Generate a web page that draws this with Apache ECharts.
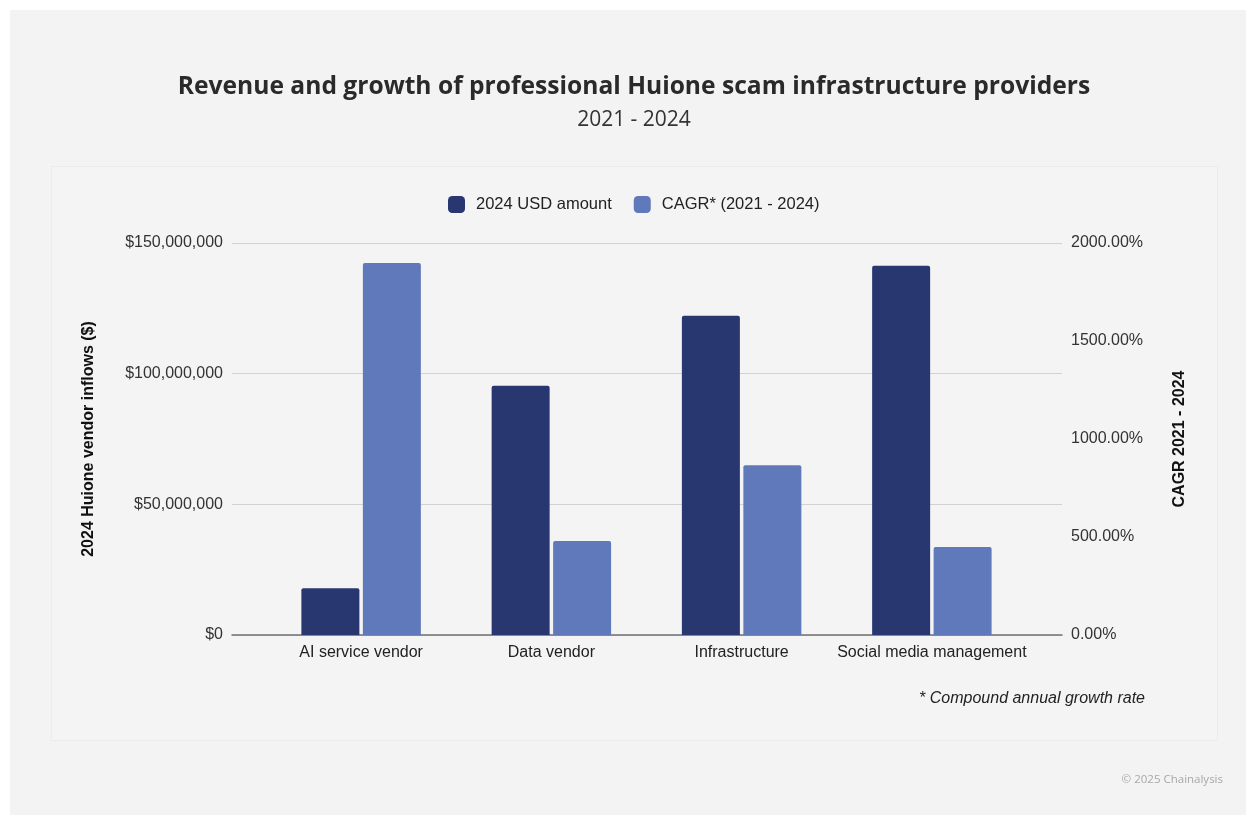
<!DOCTYPE html>
<html>
<head>
<meta charset="utf-8">
<script src="https://cdn.jsdelivr.net/npm/echarts@6/dist/echarts.min.js"></script>
<style>
  html, body { margin: 0; padding: 0; width: 1246px; height: 815px; background: #ffffff; overflow: hidden; }
  #outer { position: absolute; left: 10px; top: 10px; right: 0; bottom: 0; background: #f3f3f3; }
  #inner { position: absolute; left: 51px; top: 166px; width: 1165px; height: 573px; background: #f4f4f4; border: 1px solid #ececec; }
  #chart { position: absolute; left: 0; top: 0; width: 1246px; height: 815px; }
</style>
</head>
<body>
<div id="outer"></div>
<div id="inner"></div>
<div id="chart"></div>
<script>
// ---- data ----
const categories = ['AI service vendor', 'Data vendor', 'Infrastructure', 'Social media management'];
const usdAmount2024 = [17900000, 95400000, 122200000, 141300000];
const cagrPercent = [1898, 480, 866, 449];
const leftTicks = { min: 0, max: 150000000, interval: 50000000 };
const rightTicks = { min: 0, max: 2000, interval: 500 };
const seriesNames = ['2024 USD amount', 'CAGR* (2021 - 2024)'];
const titleText = 'Revenue and growth of professional Huione scam infrastructure providers';
const subtitleText = '2021 - 2024';
const leftAxisName = '2024 Huione vendor inflows ($)';
const rightAxisName = 'CAGR 2021 - 2024';
const footnoteText = '* Compound annual growth rate';
const creditText = '\u00A9 2025 Chainalysis';

const DARK = '#283770';
const LIGHT = '#5f79ba';
const SANS = '"Liberation Sans", Arial, sans-serif';

const chart = echarts.init(document.getElementById('chart'), null, { renderer: 'canvas' });

const fmtUSD = v => '$' + Math.round(v).toString().replace(/\B(?=(\d{3})+(?!\d))/g, ',');
const fmtPct = v => v.toFixed(2) + '%';

const option = {
  backgroundColor: 'transparent',
  animation: false,
  graphic: [
    { type: 'text', x: 634, y: 87, silent: true,
      style: { text: titleText, align: 'center', verticalAlign: 'middle',
        font: 'bold 24.6px "Open Sans", sans-serif', fill: '#2a2a2a' } },
    { type: 'text', x: 634, y: 120, silent: true,
      style: { text: subtitleText, align: 'center', verticalAlign: 'middle',
        font: '21px "Open Sans", sans-serif', fill: '#333333' } },
    { type: 'text', x: 1145, y: 699, silent: true,
      style: { text: footnoteText, align: 'right', verticalAlign: 'middle',
        font: 'italic 16px "Liberation Sans", Arial, sans-serif', fill: '#222222' } },
    { type: 'text', x: 1223, y: 780, silent: true,
      style: { text: creditText, align: 'right', verticalAlign: 'middle',
        font: '11.5px "Open Sans", sans-serif', fill: '#a8a8a8' } }
  ],
  legend: {
    data: seriesNames,
    left: 448, top: 196,
    itemWidth: 17, itemHeight: 17, itemGap: 22, padding: 0,
    icon: 'roundRect',
    textStyle: { fontFamily: SANS, fontSize: 16.5, color: '#222222', padding: [0, 0, 0, 6] }
  },
  grid: [
    { left: 232, right: 184, top: 243, bottom: 180 },
    { left: 266, right: 219, top: 243, bottom: 180 }
  ],
  xAxis: [
    { type: 'value', gridIndex: 0, min: 0, max: 1,
      axisLine: { show: true, lineStyle: { color: '#727272', width: 1.5 } },
      axisTick: { show: false }, axisLabel: { show: false }, splitLine: { show: false } },
    { type: 'category', gridIndex: 1, data: categories,
      axisLine: { show: false }, axisTick: { show: false },
      axisLabel: { interval: 0, fontFamily: SANS, fontSize: 16, color: '#222222', margin: 10 } }
  ],
  yAxis: [
    { type: 'value', gridIndex: 0, position: 'left',
      min: leftTicks.min, max: leftTicks.max, interval: leftTicks.interval,
      name: leftAxisName, nameLocation: 'middle', nameGap: 135, nameRotate: 90,
      nameTextStyle: { fontFamily: SANS, fontWeight: 'bold', fontSize: 16, color: '#111111' },
      axisLine: { show: false }, axisTick: { show: false },
      axisLabel: { formatter: fmtUSD, fontFamily: SANS, fontSize: 16, color: '#333333', margin: 9, padding: [4, 0, 0, 0] },
      splitLine: { show: true, lineStyle: { color: '#d2d2d2', width: 1 } } },
    { type: 'value', gridIndex: 0, position: 'right',
      min: rightTicks.min, max: rightTicks.max, interval: rightTicks.interval,
      name: rightAxisName, nameLocation: 'middle', nameGap: 110, nameRotate: 90,
      nameTextStyle: { fontFamily: SANS, fontWeight: 'bold', fontSize: 16, color: '#111111' },
      axisLine: { show: false }, axisTick: { show: false },
      axisLabel: { formatter: fmtPct, fontFamily: SANS, fontSize: 16, color: '#333333', margin: 9, padding: [4, 0, 0, 0] },
      splitLine: { show: false } },
    { type: 'value', gridIndex: 1, show: false,
      min: leftTicks.min, max: leftTicks.max, interval: leftTicks.interval, splitLine: { show: false } },
    { type: 'value', gridIndex: 1, show: false,
      min: rightTicks.min, max: rightTicks.max, interval: rightTicks.interval, splitLine: { show: false } }
  ],
  series: [
    { name: seriesNames[0], type: 'bar', xAxisIndex: 1, yAxisIndex: 2, data: usdAmount2024,
      barWidth: 58, barGap: '6%',
      itemStyle: { color: DARK, borderRadius: [2, 2, 0, 0] } },
    { name: seriesNames[1], type: 'bar', xAxisIndex: 1, yAxisIndex: 3, data: cagrPercent,
      barWidth: 58, barGap: '6%',
      itemStyle: { color: LIGHT, borderRadius: [2, 2, 0, 0] } }
  ]
};

chart.setOption(option);
</script>
</body>
</html>
